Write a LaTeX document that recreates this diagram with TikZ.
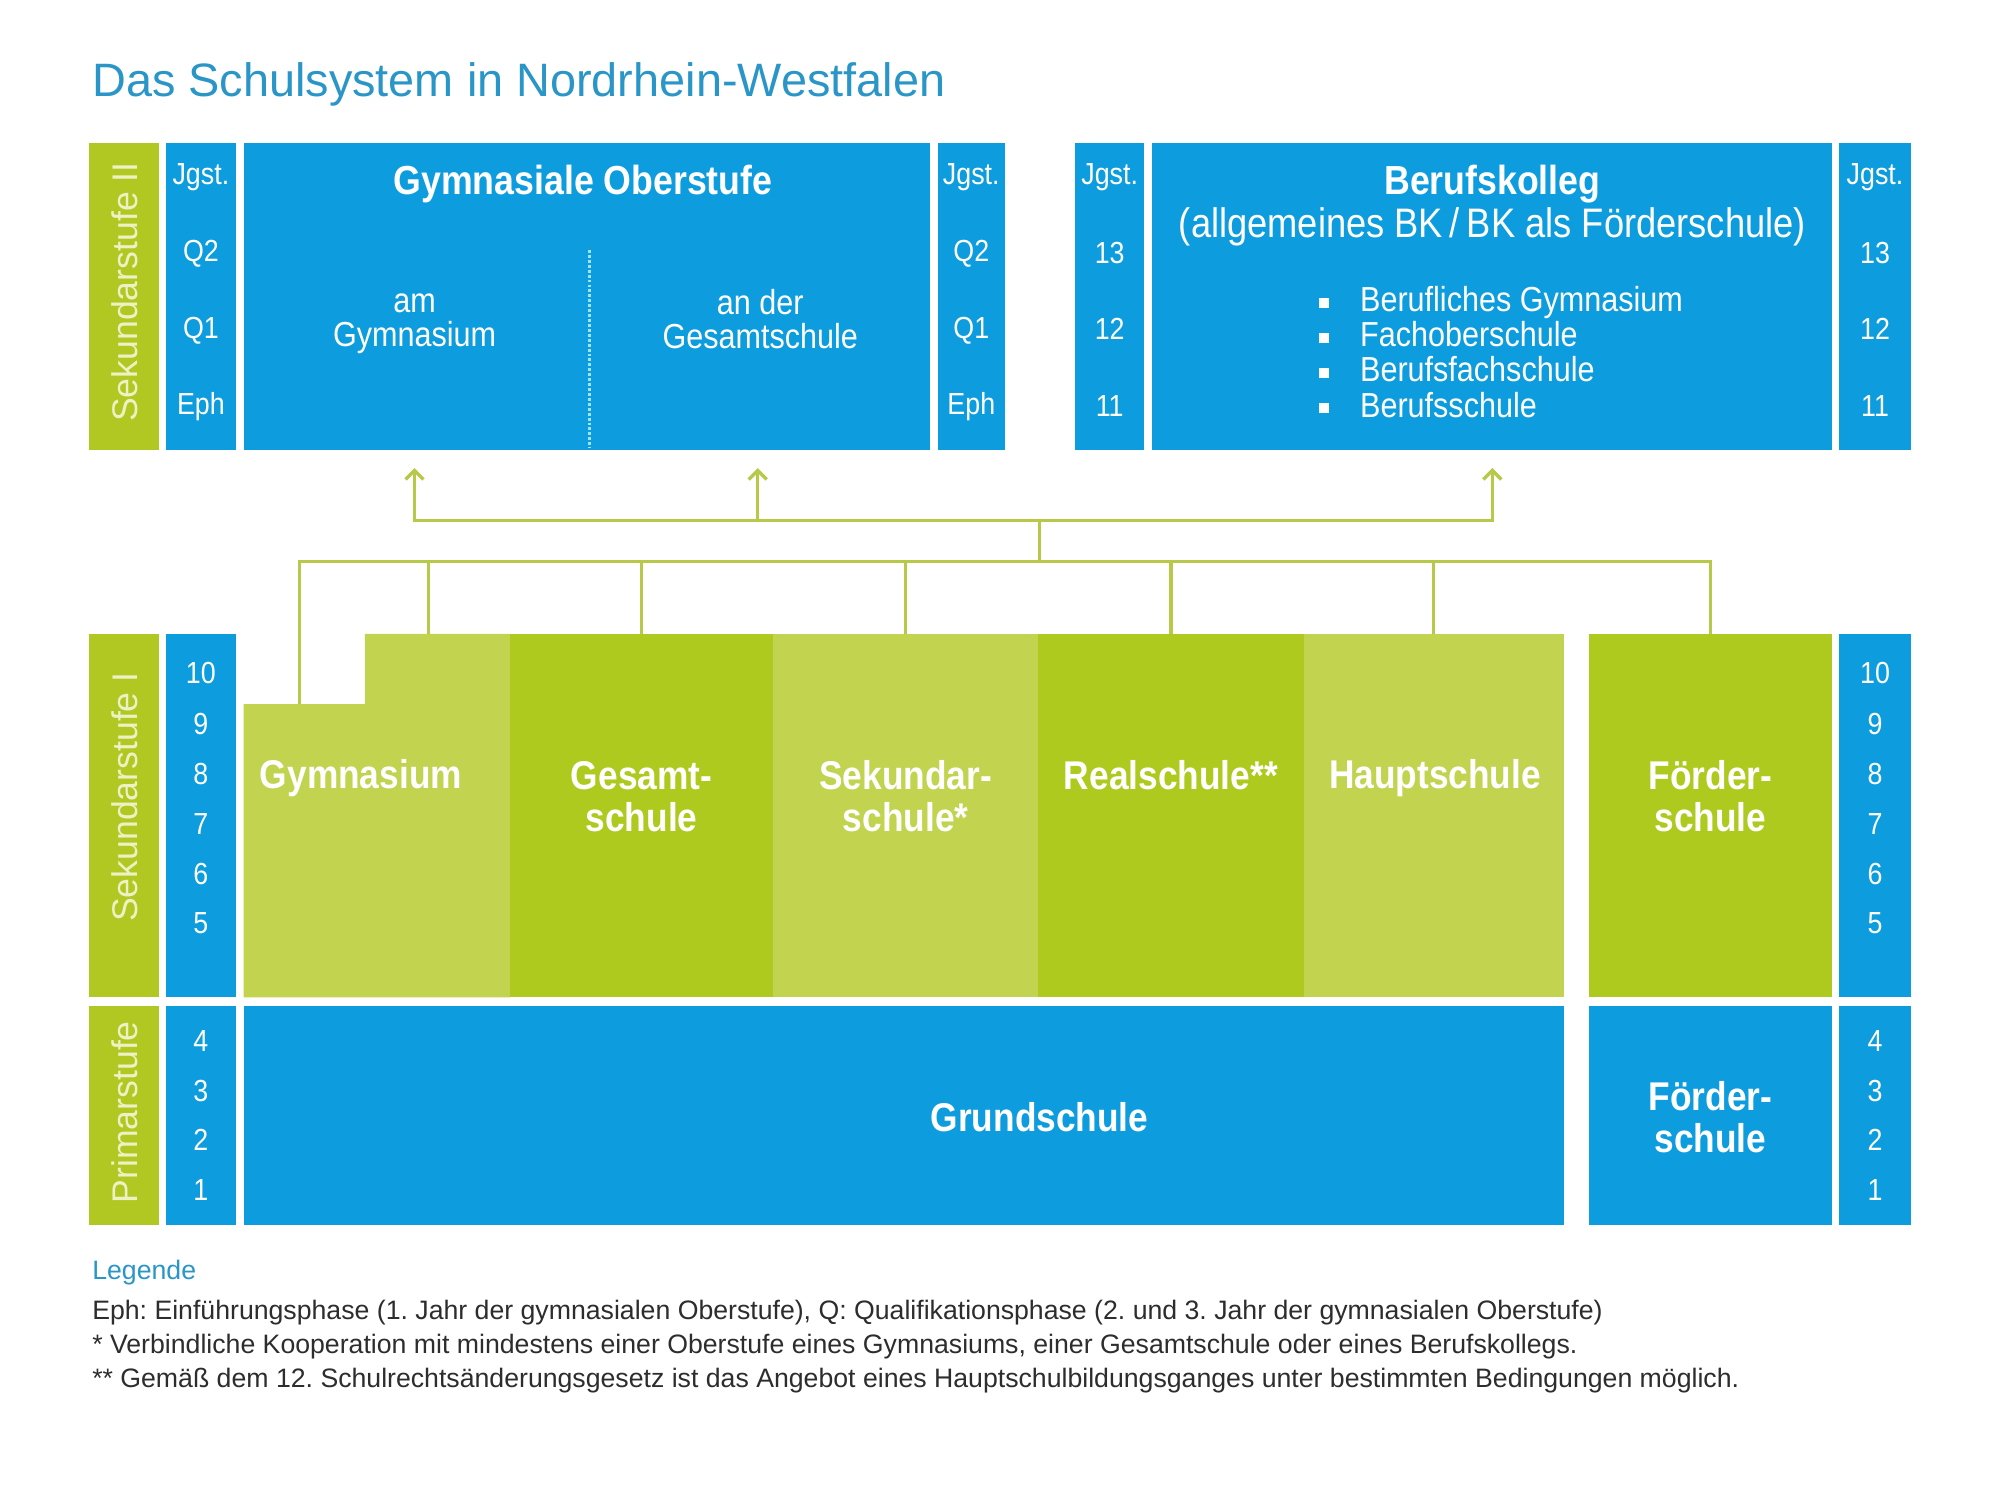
\documentclass[tikz,border=0pt]{standalone}
\usepackage{fontspec}
\setmainfont{Liberation Sans}
\newfontfamily\condf{Liberation Sans}[FakeStretch=0.88]
\usetikzlibrary{fit,arrows.meta}
\definecolor{nrwblue}{RGB}{13,157,222}
\definecolor{gdark}{RGB}{175,202,30}
\definecolor{glight}{RGB}{194,211,80}
\definecolor{gbar}{RGB}{178,200,34}
\definecolor{conncol}{RGB}{184,200,72}
\definecolor{titleblue}{RGB}{42,150,200}
\definecolor{paletext}{RGB}{236,242,196}
\definecolor{legtext}{RGB}{45,45,45}
\definecolor{dotcol}{RGB}{160,228,246}
\newcommand\bkbullet{\rule[1.6pt]{4.5pt}{4.5pt}\hspace{13.7pt}}
\frenchspacing
\begin{document}
\begin{tikzpicture}[x=0.02cm,y=-0.02cm,
  blk/.style={inner sep=0pt,outer sep=0pt,draw=none},
  bbox/.style={blk,fill=nrwblue},
  gdbox/.style={blk,fill=gdark},
  glbox/.style={blk,fill=glight},
  barbox/.style={blk,fill=gbar},
  numtxt/.style={inner sep=0pt,text=white,font=\condf\fontsize{13.6}{15}\selectfont},
  headtxt/.style={inner sep=0pt,text=white,align=center,font=\condf\fontsize{18.4}{19.3}\selectfont},
  boxtxt/.style={inner sep=0pt,text=white,align=center,font=\condf\fontsize{15.5}{15.4}\selectfont},
  schooltxt/.style={inner sep=0pt,text=white,align=center,font=\condf\bfseries\fontsize{17.9}{18.8}\selectfont},
  stagetxt/.style={inner sep=0pt,text=paletext,rotate=90,font=\fontsize{15.9}{18}\selectfont},
  connline/.style={draw=conncol,line width=1.5pt},
  arrline/.style={connline,-{Straight Barb[length=4pt,width=8pt]}},
  dotline/.style={draw=dotcol,line width=1.3pt,dash pattern=on 1.3pt off 0.9pt}
]
\useasboundingbox[fill=white] (0,0) rectangle (1568,1176);

% title
\node[anchor=base west,inner sep=0pt,text=titleblue,font=\fontsize{20.9}{24}\selectfont] (title) at (72,76) {Das Schulsystem in Nordrhein-Westfalen};

% ---------- Sekundarstufe II ----------
\node[barbox,fit={(70,112)(125,353)}] (s2bar) {};
\node[stagetxt] (s2lab) at (97.5,229) {Sekundarstufe II};
\node[bbox,fit={(130,112)(185,353)}] (jg1) {};
\node[bbox,fit={(191,112)(729,353)}] (gos) {};
\node[bbox,fit={(735,112)(788,353)}] (jg2) {};
\node[bbox,fit={(843,112)(897,353)}] (jg3) {};
\node[bbox,fit={(903,112)(1436,353)}] (bk) {};
\node[bbox,fit={(1442,112)(1498,353)}] (jg4) {};

\foreach \t/\y/\n in {Jgst./139/a, Q2/199/b, Q1/259/c, Eph/319/d}{
  \node[numtxt] (jgl\n) at (157.5,\y) {\t};
  \node[numtxt] (jgr\n) at (761.5,\y) {\t};
}
\foreach \t/\y/\n in {Jgst./139/a, 13/198/b, 12/258/c, 11/318/d}{
  \node[numtxt] (bkl\n) at (870,\y) {\t};
  \node[numtxt] (bkr\n) at (1470,\y) {\t};
}

\node[headtxt,font=\condf\bfseries\fontsize{18.1}{19.3}\selectfont] (gostitle) at (457,144) {Gymnasiale Oberstufe};
\coordinate (dtop) at (462,196);
\coordinate (dbot) at (462,351);
\draw[dotline] (dtop) -- (dbot);
\node[boxtxt] (amgym) at (325,254) {am\\Gymnasium};
\node[boxtxt] (angs) at (596,250) {an der\\Gesamtschule};

\node[headtxt] (bktitle) at (1170,161) {{\bfseries\fontsize{18.1}{19.3}\selectfont Berufskolleg}\\(allgemeines BK\,/\,BK als Förderschule)};
\node[inner sep=0pt,text=white,align=left,anchor=west,font=\condf\fontsize{15.5}{15.65}\selectfont] (bklist) at (1034,276)
  {\bkbullet Berufliches Gymnasium\\\bkbullet Fachoberschule\\\bkbullet Berufsfachschule\\\bkbullet Berufsschule};

% ---------- Sekundarstufe I ----------
\node[barbox,fit={(70,497)(125,782)}] (s1bar) {};
\node[stagetxt] (s1lab) at (97.5,625) {Sekundarstufe I};
\node[bbox,fit={(130,497)(185,782)}] (n1) {};
\node[bbox,fit={(1442,497)(1498,782)}] (n2) {};
\foreach \t/\y in {10/528, 9/568, 8/607, 7/646, 6/685, 5/724}{
  \node[numtxt] (nl\t) at (157.5,\y) {\t};
  \node[numtxt] (nr\t) at (1470,\y) {\t};
}
\fill[glight] (191,552) -- (286,552) -- (286,497) -- (400,497) -- (400,782) -- (191,782) -- cycle;
\node[blk,fit={(191,497)(400,782)}] (gym) {};
\node[gdbox,fit={(400,497)(606,782)}] (ges) {};
\node[glbox,fit={(606,497)(814,782)}] (sek) {};
\node[gdbox,fit={(814,497)(1022,782)}] (real) {};
\node[glbox,fit={(1022,497)(1226,782)}] (haupt) {};
\node[gdbox,fit={(1246,497)(1436,782)}] (foe) {};

\node[schooltxt] (gymlab) at (283,610) {Gymnasium};
\node[schooltxt] (geslab) at (503,624.5) {Gesamt-\\schule};
\node[schooltxt] (seklab) at (710,624.5) {Sekundar-\\schule*};
\node[schooltxt] (reallab) at (918,608) {Realschule**};
\node[schooltxt] (hauptlab) at (1125,610) {Hauptschule};
\node[schooltxt] (foelab) at (1341,624.5) {Förder-\\schule};

% ---------- Primarstufe ----------
\node[barbox,fit={(70,789)(125,960)}] (pbar) {};
\node[stagetxt] (plab) at (97.5,872) {Primarstufe};
\node[bbox,fit={(130,789)(185,960)}] (n3) {};
\node[bbox,fit={(191,789)(1226,960)}] (grund) {};
\node[bbox,fit={(1246,789)(1436,960)}] (foe2) {};
\node[bbox,fit={(1442,789)(1498,960)}] (n4) {};
\foreach \t/\y in {4/816, 3/855, 2/894, 1/933}{
  \node[numtxt] (pl\t) at (157.5,\y) {\t};
  \node[numtxt] (pr\t) at (1470,\y) {\t};
}
\node[schooltxt] (grundlab) at (815,876) {Grundschule};
\node[schooltxt] (foe2lab) at (1341,876) {Förder-\\schule};

% ---------- connectors ----------
\coordinate (gymnotch) at (235,552);
\coordinate (gymtop) at (336,497);
\coordinate (bus) at (815,440);
\coordinate (hub) at (815,408);
\coordinate (t1) at (325,367);
\coordinate (t2) at (594,367);
\coordinate (t3) at (1170,367);
\draw[connline] (gymnotch) |- (bus) -| (foe.north);
\draw[connline] (gymtop) -- (gymtop |- bus);
\foreach \s in {ges,sek,real,haupt}{
  \draw[connline] (\s.north) -- (\s.north |- bus);
}
\draw[connline] (bus) -- (hub);
\draw[arrline] (hub) -| (t1);
\draw[arrline] (hub) -| (t2);
\draw[arrline] (hub) -| (t3);

% ---------- legend ----------
\node[anchor=west,inner sep=0pt,text=titleblue,font=\fontsize{11.9}{15}\selectfont] (leghead) at (72,998) {Legende};
\node[anchor=north west,inner sep=0pt,align=left,text=legtext,font=\fontsize{11.9}{15.1}\selectfont] (legbody) at (72,1019)
  {Eph: Einführungsphase (1. Jahr der gymnasialen Oberstufe), Q: Qualifikationsphase (2. und 3. Jahr der gymnasialen Oberstufe)\\
   * Verbindliche Kooperation mit mindestens einer Oberstufe eines Gymnasiums, einer Gesamtschule oder eines Berufskollegs.\\
   ** Gemäß dem 12. Schulrechtsänderungsgesetz ist das Angebot eines Hauptschulbildungsganges unter bestimmten Bedingungen möglich.};
\end{tikzpicture}
\end{document}
